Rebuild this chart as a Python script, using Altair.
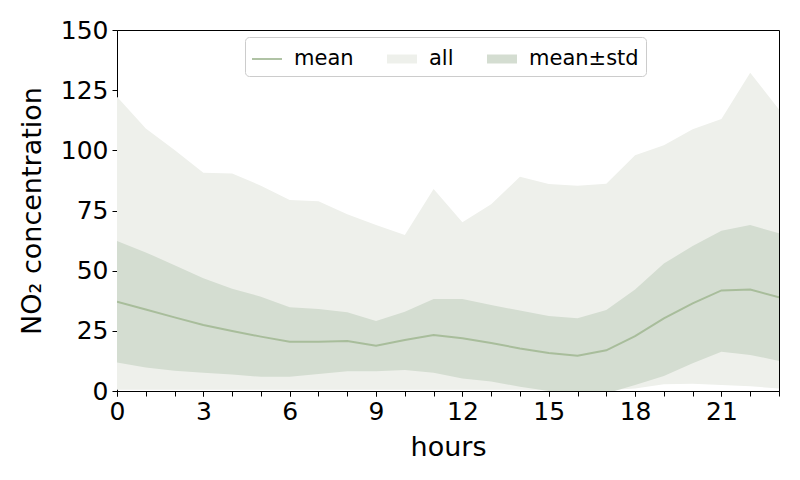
import altair as alt
import pandas as pd

hours = list(range(24))
major_hours = [0, 3, 6, 9, 12, 15, 18, 21]
y_ticks = [0, 25, 50, 75, 100, 125, 150]
mean_vals = [37.1, 33.9, 30.6, 27.4, 24.9, 22.6, 20.5, 20.5, 20.8, 18.8, 21.2, 23.3,
             21.9, 19.9, 17.7, 15.8, 14.7, 16.9, 22.8, 30.2, 36.4, 41.8, 42.2, 38.9]
std_hi = [62.3, 57.6, 52.3, 46.8, 42.5, 39.2, 34.8, 34.1, 32.7, 29.1, 32.9, 38.2,
          38.2, 35.7, 33.4, 31.2, 30.2, 33.7, 42.2, 53.0, 60.2, 66.6, 69.0, 65.5]
std_lo = [11.8, 9.8, 8.4, 7.6, 6.9, 5.9, 5.9, 7.1, 8.2, 8.2, 8.7, 7.6,
          5.2, 3.9, 1.8, 0.0, -1.5, -1.0, 2.5, 6.2, 11.5, 16.3, 15.0, 12.5]
all_hi = [122.3, 109.1, 100.1, 90.7, 90.4, 85.3, 79.4, 78.8, 73.4, 69.0, 64.8, 83.9,
          70.1, 77.6, 89.0, 86.0, 85.3, 86.1, 98.0, 102.1, 108.8, 113.0, 132.2, 117.0]
all_lo = [0.5, 0.5, 0.5, 0.5, 0.5, 0.5, 0.5, 0.5, 0.5, 0.5, 0.5, 0.5,
          0.5, 0.5, 0.5, 0.3, 0.3, 0.3, 1.0, 2.8, 3.0, 2.5, 2.0, 1.0]

series_names = ["mean", "all", "mean±std"]
series_colors = ["#a8bd9b", "#eef0eb", "#d4ddd1"]
legend_shapes = ["M-1,-0.06H1V0.06H-1Z", "M-1,-0.3H1V0.3H-1Z", "M-1,-0.3H1V0.3H-1Z"]

df = pd.DataFrame({
    "hour": hours, "mean": mean_vals, "std_lo": std_lo, "std_hi": std_hi,
    "all_lo": all_lo, "all_hi": all_hi,
})

FONT = "DejaVu Sans"
x_scale = alt.Scale(domain=[0, 23], nice=False, zero=False)

major_axis = alt.Axis(
    title="hours", values=major_hours, grid=False, orient="bottom",
    labelFontSize=25, titleFontSize=27, titleFontWeight="normal",
    tickSize=5, labelPadding=3, titlePadding=10,
    labelFlush=False, labelOverlap=False,
    domainColor="black", tickColor="black", labelColor="black", titleColor="black",
)
minor_axis = alt.Axis(
    title=None, values=hours, grid=False, orient="bottom", labels=False,
    domain=False, tickSize=5, tickColor="black",
)

y_scale = alt.Scale(domain=[0, 150], nice=False)
y_axis = alt.Axis(
    title="NO₂ concentration", values=y_ticks, grid=False,
    labelFontSize=25, titleFontSize=27, titleFontWeight="normal",
    tickSize=5, labelPadding=4, titlePadding=14, labelFlush=False,
    domainColor="black", tickColor="black", labelColor="black", titleColor="black",
)

base = alt.Chart(df)

area_all = base.mark_area(color=series_colors[1], clip=True, opacity=1).encode(
    x=alt.X("hour:Q", scale=x_scale, axis=major_axis),
    y=alt.Y("all_lo:Q", scale=y_scale, axis=y_axis),
    y2="all_hi:Q",
)

area_std = base.mark_area(color=series_colors[2], clip=True, opacity=1).encode(
    x=alt.X("hour:Q", axis=None),
    y="std_lo:Q",
    y2="std_hi:Q",
)

line_mean = base.mark_line(color=series_colors[0], strokeWidth=2, clip=True).encode(
    x=alt.X("hour:Q", axis=minor_axis),
    y="mean:Q",
)

legend_kw = dict(
    title=None, orient="none", legendX=128, legendY=7,
    direction="horizontal", columns=3,
    labelFontSize=21, labelFont=FONT, labelColor="black",
    symbolSize=900, symbolOpacity=1, symbolStrokeWidth=0,
    labelOffset=12, columnPadding=33, padding=7,
    strokeColor="#cccccc", fillColor="rgba(255,255,255,0.8)",
    cornerRadius=4,
)

legend_layer = base.transform_calculate(series="'mean'").mark_point(
    filled=True, opacity=0
).encode(
    x=alt.X("hour:Q", axis=None),
    y="mean:Q",
    color=alt.Color(
        "series:N",
        scale=alt.Scale(domain=series_names, range=series_colors),
        legend=alt.Legend(**legend_kw),
    ),
    shape=alt.Shape(
        "series:N",
        scale=alt.Scale(domain=series_names, range=legend_shapes),
        legend=alt.Legend(**legend_kw),
    ),
)

chart = alt.layer(area_all, area_std, line_mean, legend_layer).resolve_axis(
    x="independent"
).properties(
    width=662, height=361,
    padding={"left": 10, "top": 10, "right": 5, "bottom": 5},
).configure(
    font=FONT,
).configure_view(
    stroke="black", strokeWidth=1,
)

chart.save("out.html", embed_options={"renderer": "svg", "actions": False})
